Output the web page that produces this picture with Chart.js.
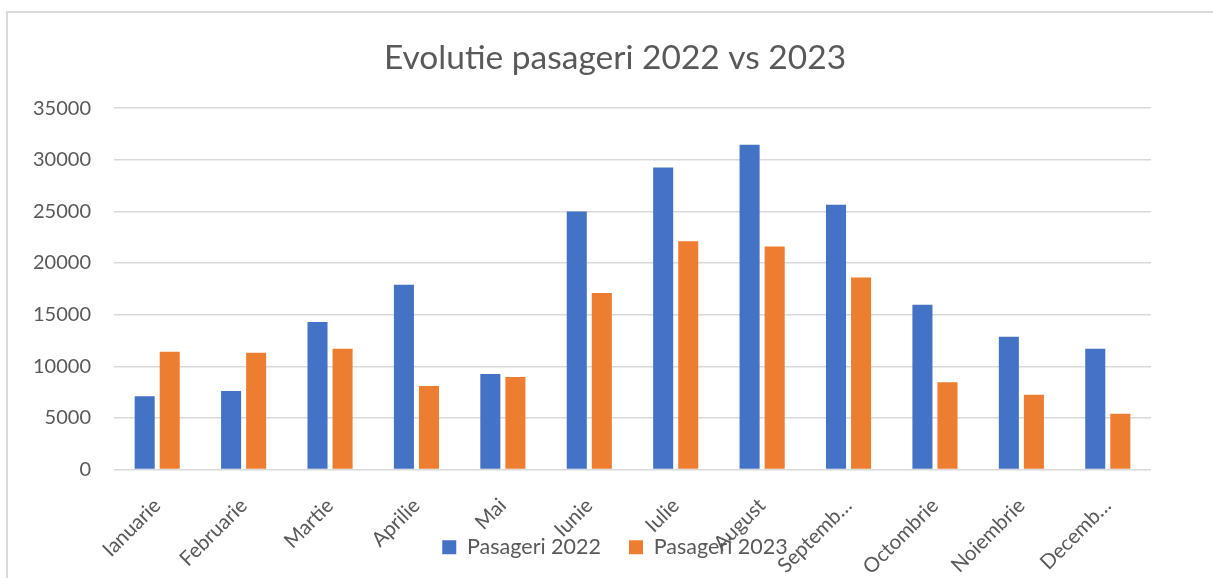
<!DOCTYPE html>
<html>
<head>
<meta charset="utf-8">
<script src="https://cdn.jsdelivr.net/npm/chart.js@4"></script>
<style>
  body { margin: 0; background: #fff; }
  #wrap { position: relative; width: 1213px; height: 578px; overflow: hidden; }
  #frame { position: absolute; left: 6px; top: 11px; width: 1400px; height: 800px;
           border-left: 2px solid #dadada; border-top: 2px solid #dadada; }
  canvas { position: absolute; left: 0; top: 0; }
</style>
</head>
<body>
<div id="wrap">
  <div id="frame"></div>
  <canvas id="chart" width="1213" height="578"></canvas>
</div>
<script>
// date
const luni = ['Ianuarie', 'Februarie', 'Martie', 'Aprilie', 'Mai', 'Iunie', 'Iulie', 'August', 'Septemb…', 'Octombrie', 'Noiembrie', 'Decemb…'];
const pasageri2022 = [7100, 7600, 14300, 17900, 9250, 25000, 29250, 31450, 25650, 15950, 12850, 11700];
const pasageri2023 = [11400, 11300, 11700, 8100, 8950, 17100, 22100, 21600, 18600, 8450, 7250, 5400];
const yTicks = [0, 5000, 10000, 15000, 20000, 25000, 30000, 35000];

const textColor = '#595959';
const fontFam = 'Lato, "Open Sans", sans-serif';

// etichetele axei x trec peste legenda, ca in Excel
const unclipX = {
    id: 'unclipX',
    afterLayout(chart) { chart.scales.x.bottom = chart.height; }
};

new Chart(document.getElementById('chart'), {
    type: 'bar',
    data: {
        labels: luni,
        datasets: [
            { label: 'Pasageri 2022', data: pasageri2022, backgroundColor: '#4472C4' },
            { label: 'Pasageri 2023', data: pasageri2023, backgroundColor: '#ED7D31' }
        ]
    },
    plugins: [unclipX],
    options: {
        responsive: false,
        animation: false,
        categoryPercentage: 0.58,
        barPercentage: 0.8,
        layout: { padding: { top: 38, left: 17, right: 0, bottom: 10 } },
        plugins: {
            title: {
                display: true,
                text: 'Evolutie pasageri 2022 vs 2023',
                color: textColor,
                font: { family: fontFam, size: 33.5, weight: 'normal' },
                padding: { top: 0, bottom: 30 }
            },
            legend: {
                position: 'bottom',
                labels: {
                    color: textColor,
                    font: { family: fontFam, size: 21.5 },
                    boxWidth: 14,
                    boxHeight: 14,
                    padding: 28
                }
            },
            tooltip: { enabled: false }
        },
        scales: {
            x: {
                grid: { display: false },
                border: { display: false },
                ticks: {
                    color: textColor,
                    font: { family: fontFam, size: 20.5 },
                    minRotation: 45,
                    maxRotation: 45,
                    autoSkip: false,
                    padding: 16
                },
                afterFit(scale) { scale.height = 39; }
            },
            y: {
                min: 0,
                max: 35000,
                afterBuildTicks(scale) { scale.ticks = yTicks.map(v => ({ value: v })); },
                grid: { color: '#d9d9d9', lineWidth: 1.5, drawTicks: false },
                border: { display: false },
                ticks: {
                    color: textColor,
                    font: { family: fontFam, size: 20 },
                    padding: 23,
                    callback: v => String(v)
                },
                afterFit(scale) { scale.width = 97; }
            },
            dreapta: {
                position: 'right',
                display: true,
                grid: { display: false },
                border: { display: false },
                ticks: { display: false },
                afterFit(scale) { scale.width = 62; }
            }
        }
    }
});
</script>
</body>
</html>
